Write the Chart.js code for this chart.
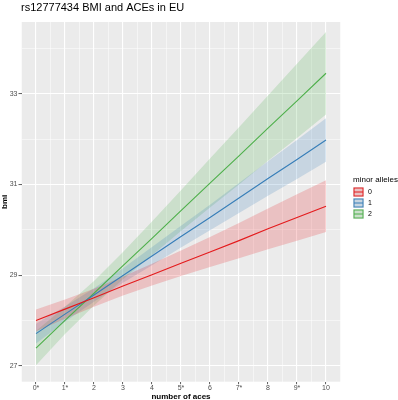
<!DOCTYPE html>
<html>
<head>
<meta charset="utf-8">
<script src="https://cdn.jsdelivr.net/npm/chart.js@4/dist/chart.umd.min.js"></script>
<style>
  html, body { margin: 0; padding: 0; background: #fff; }
  #wrap { width: 398px; height: 400px; }
</style>
</head>
<body>
<div id="wrap"><canvas id="c" width="398" height="400"></canvas></div>
<script>
// ====== DATA ======
const aces = [0, 1, 2, 3, 4, 5, 6, 7, 8, 9, 10];
const aceLabels = ['0*', '1*', '2', '3', '4', '5*', '6', '7*', '8', '9*', '10'];
const alleles = ['0', '1', '2'];
const yTicks = [27, 29, 31, 33];

// fitted bmi per number of aces, one list per minor allele count
const fit0 = [28.00, 28.25, 28.50, 28.76, 29.01, 29.26, 29.51, 29.76, 30.02, 30.27, 30.52];
const lo0  = [27.76, 28.04, 28.30, 28.55, 28.77, 28.98, 29.18, 29.37, 29.57, 29.76, 29.95];
const hi0  = [28.24, 28.46, 28.70, 28.97, 29.25, 29.54, 29.84, 30.15, 30.47, 30.78, 31.09];

const fit1 = [27.71, 28.14, 28.56, 28.99, 29.42, 29.85, 30.27, 30.70, 31.13, 31.55, 31.98];
const lo1  = [27.49, 27.97, 28.41, 28.83, 29.22, 29.61, 29.99, 30.37, 30.75, 31.12, 31.50];
const hi1  = [27.93, 28.31, 28.71, 29.15, 29.62, 30.09, 30.55, 31.03, 31.51, 31.98, 32.46];

const fit2 = [27.39, 28.00, 28.60, 29.21, 29.81, 30.42, 31.03, 31.63, 32.24, 32.84, 33.45];
const lo2  = [27.01, 27.70, 28.33, 28.91, 29.44, 29.97, 30.49, 31.00, 31.52, 32.02, 32.54];
const hi2  = [27.77, 28.30, 28.87, 29.51, 30.18, 30.87, 31.57, 32.26, 32.96, 33.66, 34.36];

const lineColors = ['#E41A1C', '#377EB8', '#4DAF4A'];
const bandColors = ['rgba(228,26,28,0.2)', 'rgba(55,126,184,0.2)', 'rgba(77,175,74,0.2)'];

const fits = [fit0, fit1, fit2];
const los = [lo0, lo1, lo2];
const his = [hi0, hi1, hi2];

const pts = (arr) => arr.map((v, i) => ({ x: aces[i], y: v }));

// bands first (lower edge + upper edge filled to it), then the lines on top
var datasets = [];
alleles.forEach((a, k) => {
  datasets.push({
    label: 'lo ' + a, data: pts(los[k]),
    borderWidth: 0, borderColor: 'transparent', pointRadius: 0, fill: false, order: 2
  });
  datasets.push({
    label: 'hi ' + a, data: pts(his[k]),
    borderWidth: 0, borderColor: 'transparent', pointRadius: 0,
    fill: '-1', backgroundColor: bandColors[k], order: 2
  });
});
alleles.forEach((a, k) => {
  datasets.push({
    label: a, data: pts(fits[k]),
    borderColor: lineColors[k], borderWidth: 1.1, pointRadius: 0, fill: false, order: 0
  });
});

const FONT = "'Liberation Sans', Arial, sans-serif";

// gray panel + title + legend (ggplot look)
const ggLook = {
  id: 'ggLook',
  beforeDraw(chart) {
    const { ctx, chartArea: a } = chart;
    ctx.save();
    ctx.fillStyle = '#EBEBEB';
    ctx.fillRect(a.left, a.top, a.right - a.left, a.bottom - a.top);
    ctx.restore();
  },
  afterDraw(chart) {
    const ctx = chart.ctx;
    ctx.save();
    ctx.fillStyle = '#000';
    ctx.font = '11px ' + FONT;
    ctx.textBaseline = 'middle';
    ctx.textAlign = 'left';
    ctx.fillText('rs12777434 BMI and ACEs in EU', 21, 8);

    // legend
    ctx.font = '8px ' + FONT;
    ctx.fillText('minor alleles', 353, 180);
    alleles.forEach((a, k) => {
      const y0 = 187 + k * 11;
      ctx.fillStyle = '#EBEBEB';
      ctx.fillRect(353, y0, 11, 10);
      ctx.fillStyle = bandColors[k];
      ctx.fillRect(354, y0 + 1, 9, 8);
      ctx.strokeStyle = lineColors[k];
      ctx.lineWidth = 1;
      ctx.strokeRect(354, y0 + 1, 9, 8);
      ctx.beginPath();
      ctx.moveTo(354, y0 + 5);
      ctx.lineTo(363, y0 + 5);
      ctx.stroke();
      ctx.fillStyle = '#000';
      ctx.font = '7px ' + FONT;
      ctx.fillText(a, 368, y0 + 5);
    });
    ctx.restore();
  }
};

const isInt = (v) => Math.abs(v - Math.round(v)) < 1e-6;

new Chart(document.getElementById('c'), {
  type: 'line',
  data: { datasets: datasets },
  plugins: [ggLook],
  options: {
    responsive: false,
    devicePixelRatio: 1,
    animation: false,
    layout: { padding: { left: 0, right: 57.5, top: 22, bottom: 0 } },
    plugins: {
      legend: { display: false },
      title: { display: false },
      tooltip: { enabled: false }
    },
    scales: {
      x: {
        type: 'linear',
        min: -0.5,
        max: 10.5,
        border: { display: false },
        afterFit: (s) => { s.height = 18.3; },
        grid: {
          color: '#FFFFFF',
          lineWidth: (c) => isInt(c.tick.value) ? 1.1 : 0.5,
          tickColor: (c) => isInt(c.tick.value) ? '#333333' : 'rgba(0,0,0,0)',
          tickLength: 2.5,
          tickWidth: 0.8
        },
        ticks: {
          stepSize: 0.5,
          includeBounds: false,
          autoSkip: false,
          maxRotation: 0,
          padding: 0,
          color: '#4D4D4D',
          font: { family: FONT, size: 7 },
          callback: (v) => isInt(v) ? aceLabels[Math.round(v)] : ''
        },
        title: {
          display: true,
          text: 'number of aces',
          color: '#000',
          padding: { top: 0, bottom: -2 },
          font: { family: FONT, size: 8, weight: 'bold' }
        }
      },
      y: {
        min: 26.65,
        max: 34.58,
        border: { display: false },
        afterFit: (s) => { s.width = 21.5; },
        grid: {
          color: '#FFFFFF',
          lineWidth: (c) => yTicks.includes(c.tick.value) ? 1.1 : 0.5,
          tickColor: (c) => yTicks.includes(c.tick.value) ? '#333333' : 'rgba(0,0,0,0)',
          tickLength: 3,
          tickWidth: 0.8
        },
        ticks: {
          stepSize: 1,
          includeBounds: false,
          padding: 1,
          color: '#4D4D4D',
          font: { family: FONT, size: 7 },
          callback: (v) => yTicks.includes(v) ? String(v) : ''
        },
        title: {
          display: true,
          text: 'bmi',
          color: '#000',
          padding: { top: 0, bottom: 0 },
          font: { family: FONT, size: 8, weight: 'bold' }
        }
      }
    }
  }
});
</script>
</body>
</html>
